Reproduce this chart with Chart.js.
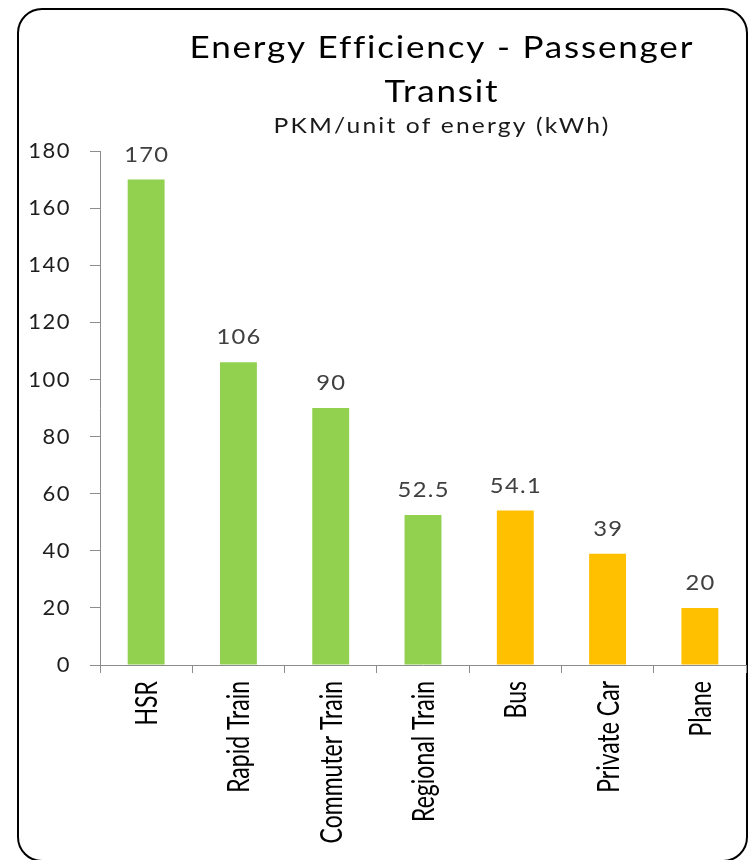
<!DOCTYPE html>
<html>
<head>
<meta charset="utf-8">
<script src="https://cdn.jsdelivr.net/npm/chart.js@4.4.1/dist/chart.umd.min.js"></script>
<style>
  html, body { margin: 0; padding: 0; background: #ffffff; }
  #wrap { position: relative; width: 752px; height: 860px; }
</style>
</head>
<body>
<div id="wrap"><canvas id="chart" width="752" height="860"></canvas></div>
<script>
// Passenger transit modes and their energy efficiency (PKM per kWh)
const categories = ['HSR', 'Rapid Train', 'Commuter Train', 'Regional Train', 'Bus', 'Private Car', 'Plane'];
const efficiency = [170, 106, 90, 52.5, 54.1, 39, 20];
const barColors = ['#92D050', '#92D050', '#92D050', '#92D050', '#FFC000', '#FFC000', '#FFC000'];
const yTicks = [0, 20, 40, 60, 80, 100, 120, 140, 160, 180];
const titleLines = ['Energy Efficiency - Passenger', 'Transit'];
const subtitleText = 'PKM/unit of energy (kWh)';

const FONT = 'Lato, Carlito, Calibri, "Open Sans", sans-serif';

// Draw centred text with a horizontal stretch and extra tracking
function wideText(ctx, text, cx, y, sx, spacing) {
  ctx.save();
  ctx.translate(cx, y);
  ctx.scale(sx, 1);
  ctx.letterSpacing = spacing + 'px';
  ctx.textAlign = 'center';
  ctx.textBaseline = 'alphabetic';
  ctx.fillText(text, spacing / 2, 0);
  ctx.restore();
}

// Rounded frame around the whole chart; also sets the default letter spacing
const framePlugin = {
  id: 'frame',
  beforeDraw(chart) {
    const ctx = chart.ctx;
    ctx.letterSpacing = '1.5px';
    ctx.save();
    ctx.fillStyle = '#ffffff';
    ctx.fillRect(0, 0, chart.width, chart.height);
    ctx.beginPath();
    ctx.roundRect(18, 9, 729, 852, 24);
    ctx.lineWidth = 2;
    ctx.strokeStyle = '#000000';
    ctx.stroke();
    ctx.restore();
  }
};

// Two-line title plus subtitle, centred slightly right of the plot centre
const titlePlugin = {
  id: 'titleBlock',
  afterDraw(chart) {
    const ctx = chart.ctx;
    const cx = (chart.chartArea.left + chart.chartArea.right) / 2 + 18;
    ctx.save();
    ctx.fillStyle = '#000000';
    ctx.font = '31px ' + FONT;
    wideText(ctx, titleLines[0], cx, 58, 1.13, 1.6);
    wideText(ctx, titleLines[1], cx, 102, 1.13, 1.6);
    ctx.font = '22px ' + FONT;
    ctx.fillStyle = '#1a1a1a';
    wideText(ctx, subtitleText, cx, 133, 1.12, 1.9);
    ctx.restore();
  }
};

// Value labels above each bar
const valueLabelPlugin = {
  id: 'valueLabels',
  afterDatasetsDraw(chart) {
    const ctx = chart.ctx;
    const meta = chart.getDatasetMeta(0);
    ctx.save();
    ctx.fillStyle = '#404040';
    ctx.font = '22px ' + FONT;
    meta.data.forEach((bar, i) => {
      wideText(ctx, String(efficiency[i]), bar.x, bar.y - 18, 1.08, 1.2);
    });
    ctx.restore();
  }
};

// Rotated, condensed category labels under the x axis
const xLabelPlugin = {
  id: 'xLabels',
  afterDraw(chart) {
    const ctx = chart.ctx;
    const xs = chart.scales.x;
    ctx.save();
    ctx.fillStyle = '#000000';
    ctx.letterSpacing = '0px';
    ctx.font = '23px ' + FONT;
    ctx.textAlign = 'right';
    ctx.textBaseline = 'middle';
    categories.forEach((label, i) => {
      const x = xs.getPixelForValue(i) + 1;
      const y = xs.top + 16;
      ctx.save();
      ctx.translate(x, y);
      ctx.rotate(-Math.PI / 2);
      ctx.scale(1, 1.35);
      ctx.fillText(label, 0, 0);
      ctx.restore();
    });
    ctx.restore();
  }
};

new Chart(document.getElementById('chart'), {
  type: 'bar',
  data: {
    labels: categories,
    datasets: [{
      data: efficiency,
      backgroundColor: barColors,
      borderWidth: 0,
      barPercentage: 0.4,
      categoryPercentage: 1.0
    }]
  },
  options: {
    responsive: false,
    animation: false,
    events: [],
    layout: { padding: { left: 20, right: 6, top: 151, bottom: 0 } },
    plugins: {
      legend: { display: false },
      title: { display: false },
      tooltip: { enabled: false }
    },
    scales: {
      x: {
        afterFit(scale) { scale.height = 195; },
        grid: {
          display: true,
          offset: true,
          drawOnChartArea: false,
          drawTicks: true,
          tickLength: 8,
          color: '#8c8c8c'
        },
        border: { display: true, color: '#8c8c8c', width: 1 },
        ticks: { display: false }
      },
      y: {
        min: 0,
        max: 180,
        afterFit(scale) { scale.width = 80; },
        afterBuildTicks(scale) { scale.ticks = yTicks.map(v => ({ value: v })); },
        grid: {
          display: true,
          drawOnChartArea: false,
          drawTicks: true,
          tickLength: 10,
          color: '#8c8c8c'
        },
        border: { display: true, color: '#8c8c8c', width: 1 },
        ticks: {
          padding: 19,
          color: '#1e1e1e',
          font: { family: FONT, size: 22 }
        }
      }
    }
  },
  plugins: [framePlugin, titlePlugin, valueLabelPlugin, xLabelPlugin]
});
</script>
</body>
</html>
